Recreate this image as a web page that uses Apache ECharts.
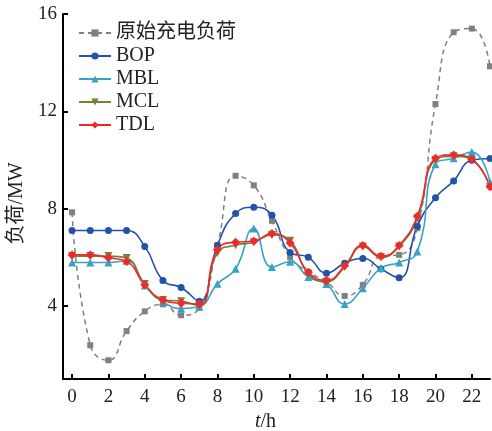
<!DOCTYPE html>
<html>
<head>
<meta charset="utf-8">
<script src="https://cdn.jsdelivr.net/npm/echarts@6/dist/echarts.min.js"></script>
<style>
html,body{margin:0;padding:0;background:#fff;}
#chart{width:492px;height:431px;}
</style>
</head>
<body>
<div id="chart"></div>
<script>
const hours = [0,1,2,3,4,5,6,7,8,9,10,11,12,13,14,15,16,17,18,19,20,21,22,23];
const original = [7.85,2.39,1.77,2.97,3.78,4.07,3.62,3.92,6.5,9.35,8.96,7.5,6.01,5.4,5.0,4.41,4.87,6.05,6.1,7.2,12.3,15.25,15.4,13.85];
const bop = [7.1,7.1,7.1,7.1,6.45,5.05,4.76,4.2,6.49,7.8,8.06,7.73,6.2,6.0,5.35,5.76,5.95,5.52,5.16,7.28,8.45,9.14,9.99,10.06];
const mbl = [5.79,5.79,5.79,5.86,4.84,4.18,3.9,3.98,4.91,5.53,7.18,5.6,5.82,5.19,4.9,4.08,4.73,5.56,5.79,6.24,9.83,10.07,10.33,9.1];
const mcl = [6.05,6.05,6.05,5.97,4.9,4.25,4.2,4.02,6.18,6.5,6.62,6.92,6.68,5.32,5.0,5.6,6.45,6.0,6.45,7.6,10.0,10.15,10.0,8.9];
const tdl = [6.1,6.1,5.98,5.83,4.87,4.25,4.11,4.08,6.31,6.62,6.66,6.98,6.59,5.39,5.05,5.65,6.49,6.04,6.49,7.69,10.07,10.21,10.03,8.9];
const xTicks = [0,2,4,6,8,10,12,14,16,18,20,22];
const yTicks = [4,8,12,16];
const names = ['原始充电负荷','BOP','MBL','MCL','TDL'];

const FONT = 'Liberation Serif, "Times New Roman", "Noto Sans CJK SC", serif';
function pairs(arr){ return hours.map((h,i)=>[h,arr[i]]); }

const chart = echarts.init(document.getElementById('chart'), null, {renderer:'canvas'});
const lineSeries = (name, data, color, symbol, size, extra) => Object.assign({
  name, type:'line', data: pairs(data), smooth:0.5,
  symbol, symbolSize:size,
  itemStyle:{color},
  lineStyle:{color, width:1.6},
  emphasis:{disabled:true},
  z:2
}, extra||{});

chart.setOption({
  animation:false,
  backgroundColor:'#fff',
  grid:{left:63, right:2, top:14, bottom:52, containLabel:false, outerBoundsMode:'none'},
  legend:{
    orient:'vertical', left:73, top:18,
    itemWidth:32, itemHeight:9, itemGap:3,
    textStyle:{fontFamily:FONT, fontSize:20, color:'#222', lineHeight:20},
    data:names
  },
  xAxis:{
    type:'value', min:-0.5, max:23,
    name:'{i|t}/h', nameLocation:'middle', nameGap:26,
    nameTextStyle:{fontFamily:FONT, fontSize:20, color:'#222', padding:[0,22,0,0],
      rich:{i:{fontFamily:FONT, fontSize:20, fontStyle:'italic', color:'#222'}}},
    axisLine:{show:true, onZero:false, lineStyle:{color:'#000', width:2}},
    axisTick:{show:true, inside:true, length:5, lineStyle:{color:'#000', width:2}, customValues:xTicks},
    axisLabel:{fontFamily:FONT, fontSize:19, color:'#222', margin:9, customValues:xTicks},
    splitLine:{show:false}
  },
  yAxis:{
    type:'value', min:1, max:16,
    name:'负荷/MW', nameLocation:'middle', nameGap:32, nameRotate:90,
    nameTextStyle:{fontFamily:FONT, fontSize:20, color:'#222', padding:[0,14,0,0]},
    axisLine:{show:true, onZero:false, lineStyle:{color:'#000', width:2}},
    axisTick:{show:true, inside:true, length:5, lineStyle:{color:'#000', width:2}, customValues:yTicks},
    axisLabel:{fontFamily:FONT, fontSize:19, color:'#222', margin:6, customValues:yTicks},
    splitLine:{show:false}
  },
  series:[
    lineSeries(names[0], original, '#808080', 'rect', 6, {lineStyle:{color:'#808080', width:1.5, type:[5,4]}}),
    lineSeries(names[1], bop, '#2452a8', 'circle', 7),
    lineSeries(names[2], mbl, '#38a1c6', 'triangle', 8),
    lineSeries(names[3], mcl, '#7d7d35', 'triangle', 8, {symbolRotate:180}),
    lineSeries(names[4], tdl, '#ee2a2a', 'diamond', 9)
  ]
});
</script>
</body>
</html>
